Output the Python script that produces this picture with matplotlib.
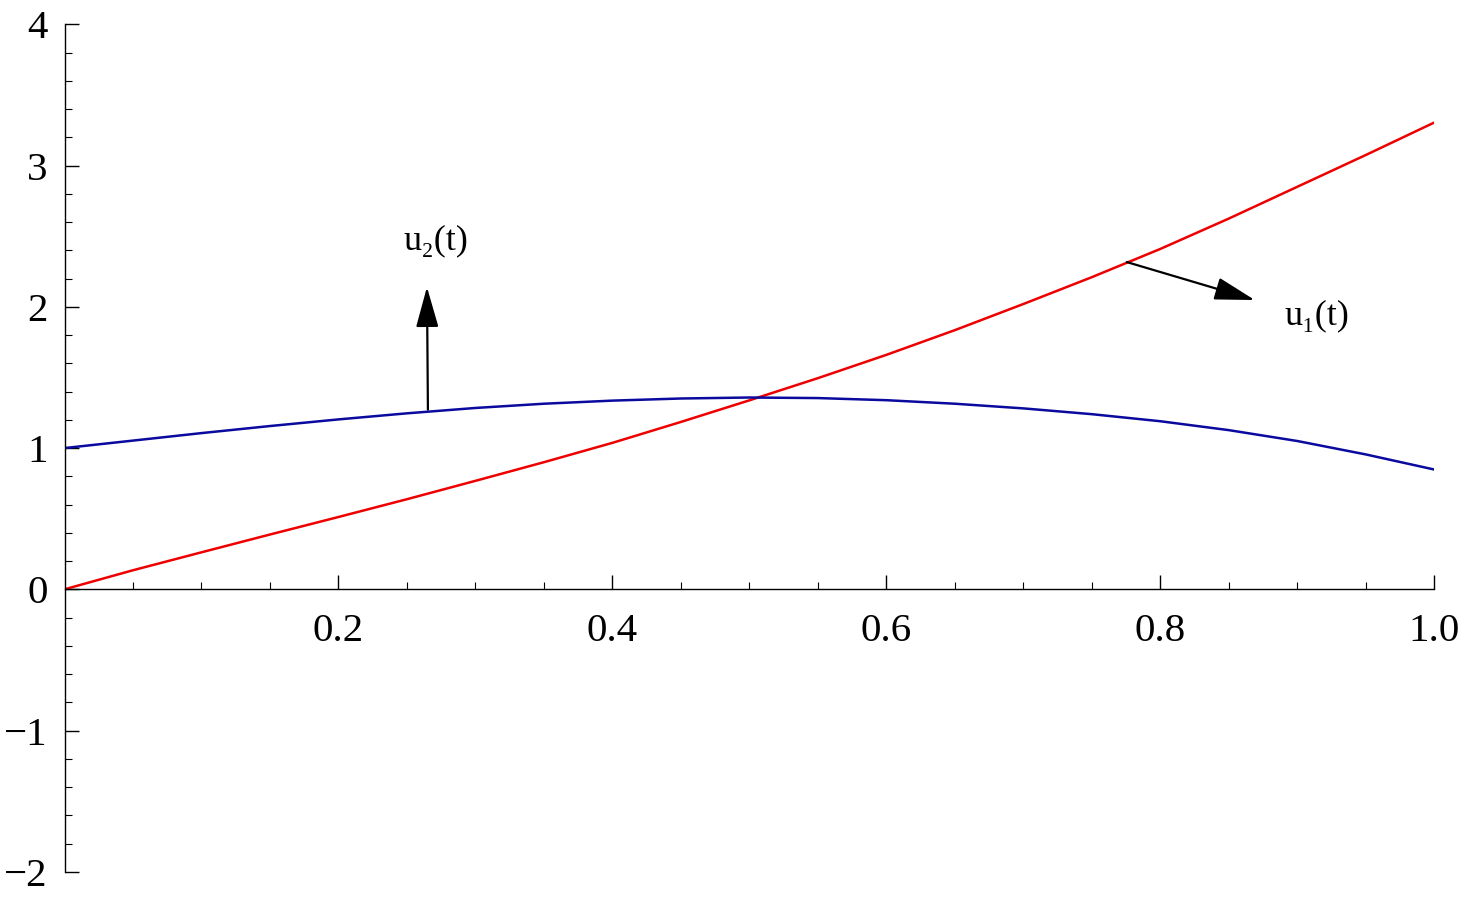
import matplotlib
matplotlib.use("Agg")
import matplotlib.pyplot as plt
import numpy as np

# Data
t_vals = [0.0, 0.05, 0.1, 0.15, 0.2, 0.25, 0.3, 0.35, 0.4, 0.45, 0.5,
          0.55, 0.6, 0.65, 0.7, 0.75, 0.8, 0.85, 0.9, 0.95, 1.0]
u1_vals = [0.0, 0.135, 0.262, 0.388, 0.512, 0.638, 0.768, 0.9, 1.037, 1.185, 1.338,
           1.495, 1.66, 1.835, 2.02, 2.21, 2.41, 2.625, 2.85, 3.075, 3.305]
u2_vals = [1.0, 1.053, 1.106, 1.156, 1.203, 1.246, 1.284, 1.314, 1.336, 1.351, 1.358,
           1.354, 1.339, 1.314, 1.281, 1.24, 1.19, 1.127, 1.05, 0.955, 0.848]

x_major = [0.2, 0.4, 0.6, 0.8, 1.0]
x_major_labels = ["0.2", "0.4", "0.6", "0.8", "1.0"]
y_major = [-2, -1, 0, 1, 2, 3, 4]
y_major_labels = ["\u22122", "\u22121", "0", "1", "2", "3", "4"]

label_u1 = "u\u2081(t)"
label_u2 = "u\u2082(t)"

plt.rcParams['font.family'] = ['Liberation Serif', 'DejaVu Serif']

fig = plt.figure(figsize=(14.71, 8.98), dpi=100)
ax = fig.add_axes([0.04385, 0.02918, 0.9312, 0.9437])

ax.plot(t_vals, u1_vals, color='#ee0000', lw=1.8, solid_capstyle='round',
        solid_joinstyle='round')
ax.plot(t_vals, u2_vals, color='#0a0a9e', lw=1.8, solid_capstyle='round',
        solid_joinstyle='round')

ax.set_xlim(0, 1.0)
ax.set_ylim(-2, 4)

ax.spines['top'].set_visible(False)
ax.spines['right'].set_visible(False)
ax.spines['bottom'].set_position(('data', 0))
for s in ('left', 'bottom'):
    ax.spines[s].set_linewidth(1.0)

ax.set_xticks(x_major)
ax.set_xticklabels(x_major_labels)
ax.set_xticks(np.arange(0.05, 1.0, 0.05), minor=True)
ax.set_yticks(y_major)
ax.set_yticklabels(y_major_labels)
ax.set_yticks(np.arange(-2, 4.01, 0.2), minor=True)

ax.tick_params(axis='both', which='major', direction='in', length=10, width=1.0,
               labelsize=29.5)
ax.tick_params(axis='both', which='minor', direction='in', length=5, width=0.8)
ax.tick_params(axis='x', which='major', pad=17)
ax.tick_params(axis='y', which='major', pad=12)

arrow_kw = dict(arrowstyle='-|>,head_length=2.5,head_width=0.7', color='black',
                lw=1.6, shrinkA=0, shrinkB=0)
ax.annotate('', xy=(0.2646, 2.14), xytext=(0.2653, 1.272), arrowprops=arrow_kw)
ax.annotate('', xy=(0.869, 2.048), xytext=(0.7755, 2.317), arrowprops=arrow_kw)

ax.text(0.271, 2.47, label_u2, fontsize=26, ha='center', va='center')
ax.text(0.914, 1.935, label_u1, fontsize=26, ha='center', va='center')

fig.savefig('out.png', dpi=100)
